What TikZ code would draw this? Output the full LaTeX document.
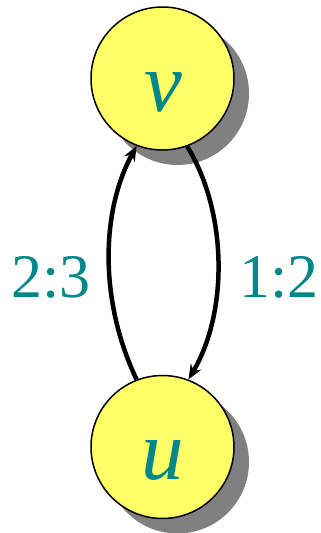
\documentclass[tikz,border=0pt]{standalone}
\usepackage{fontspec}
\setmainfont{Liberation Serif}
\usetikzlibrary{arrows.meta}
\definecolor{vertexfill}{RGB}{255,255,102}
\definecolor{labelteal}{RGB}{0,136,136}
\definecolor{shadowgray}{RGB}{128,128,128}
\begin{document}
\begin{tikzpicture}[x=1pt,y=1pt,
  vertex/.style={circle,draw=black,line width=1.5pt,fill=vertexfill,minimum size=143pt,inner sep=0pt},
  vshadow/.style={circle,fill=shadowgray,minimum size=143pt,inner sep=0pt},
  vname/.style={text=labelteal,font=\fontsize{85}{85}\selectfont\itshape,anchor=base,inner sep=0pt},
  ratio/.style={text=labelteal,font=\fontsize{62}{62}\selectfont,inner sep=0pt},
  edge/.style={line width=4.5pt,-{Stealth[length=15pt,width=12pt,inset=5pt]}}]
\useasboundingbox (0,0) rectangle (321,533);
% shadows behind the two vertices
\node[vshadow] (vs) at (177.5,439.5) {};
\node[vshadow] (us) at (177.5,71) {};
% vertices
\node[vertex] (v) at (162.5,454.5) {};
\node[vertex] (u) at (162.5,86) {};
\node[vname] (vl) at (163,421) {v};
\node[vname] (ul) at (162.5,53) {u};
% edges between u and v
\draw[edge] (u.111) .. controls (100,230) and (100,320) .. (v.249);
\draw[edge] (v.290) .. controls (228,320) and (228,220) .. (u.69);
% edge labels
\node[ratio] (l23) at (51,256) {2:3};
\node[ratio] (l12) at (279,256) {1:2};
\end{tikzpicture}
\end{document}
